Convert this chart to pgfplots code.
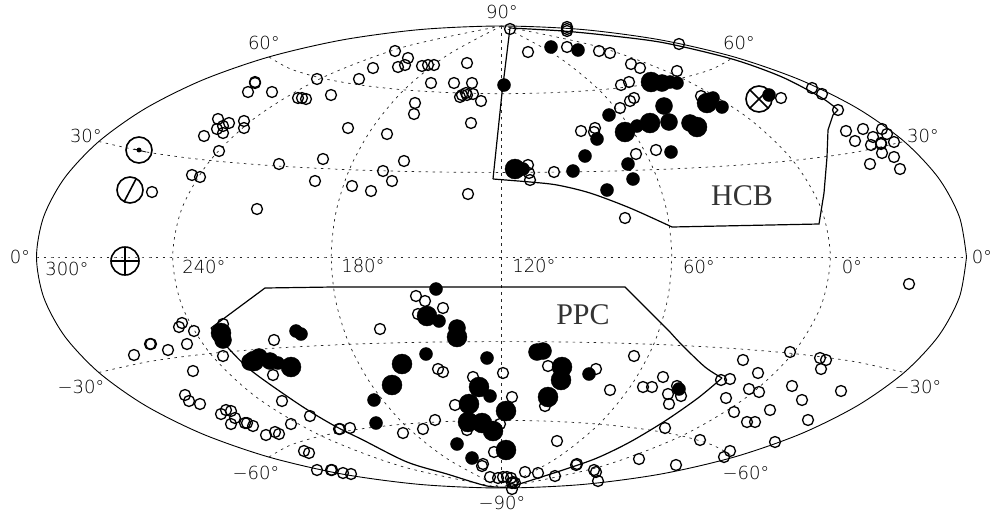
\documentclass[border=0pt]{standalone}
\usepackage{fontspec}
\usepackage{pgfplots}
\pgfplotsset{compat=1.18}
\usetikzlibrary{plotmarks}
\setmainfont{DejaVu Sans}
\newfontfamily\lblfont{DejaVu Sans ExtraLight}
\newfontfamily\serfont{Liberation Serif}

% all positions are image pixels of the reference, y downwards
\pgfplotstableread{
x y
317 79
331 95
255 82
255 83
248 92
272 92
298 98
302 98
306 99
218 119
229 123
244 121
244 128
223 126
217 129
223 133
204 136
219 151
279 164
323 159
315 181
192 175
200 177
152 192
257 209
510 29
567 27
567 29
567 31
528 52
567 47
599 51
610 53
631 64
640 68
629 82
621 85
634 98
630 101
620 108
595 128
594 132
581 131
636 154
656 150
528 165
529 173
530 180
554 172
625 218
395 51
408 58
405 65
398 67
373 68
359 79
422 66
428 65
434 65
467 63
431 83
454 83
472 83
460 97
462 95
466 93
467 95
473 94
481 101
415 103
414 114
348 128
387 134
471 123
404 161
383 171
392 181
352 186
371 191
468 194
679 44
677 71
701 96
781 98
812 88
822 94
838 110
846 131
863 129
855 141
882 129
887 134
873 137
894 142
871 145
881 144
881 143
882 153
894 157
870 164
900 169
223 324
182 323
179 327
194 331
274 340
187 344
150 344
151 344
168 350
134 355
223 356
193 371
273 375
185 395
189 401
200 404
282 401
221 414
226 410
231 411
235 418
231 424
245 423
247 423
253 426
291 424
310 416
266 435
275 432
279 434
304 451
309 453
317 470
331 470
339 429
416 296
425 301
443 308
418 314
380 329
438 369
443 372
473 377
503 373
455 405
512 397
435 420
423 429
403 433
350 428
340 429
467 430
500 424
557 441
494 452
483 464
482 466
525 472
538 473
555 476
490 477
498 478
503 477
507 477
511 478
513 482
512 483
515 483
512 489
576 465
577 464
594 470
596 472
598 481
548 366
596 369
545 406
610 390
634 356
643 387
652 387
663 377
668 394
669 404
665 428
639 459
332 470
343 473
351 474
909 284
790 352
820 358
826 360
821 369
743 360
758 373
721 380
730 379
792 386
749 389
759 392
841 391
726 398
802 400
770 410
734 412
747 422
755 422
808 420
775 442
730 451
724 457
700 440
676 465
677 386
681 396
}\opentab

\pgfplotstableread{
x y
551 47
578 50
504 85
523 169
573 171
585 156
597 139
609 115
628 164
633 179
607 190
670 82
677 83
769 95
671 152
722 107
713 98
637 126
296 331
301 334
278 363
436 289
439 321
426 354
374 400
376 423
487 358
490 396
457 444
472 458
589 374
679 389
}\smalltab

\pgfplotstableread{
x y
662 83
669 122
690 123
664 106
223 340
250 362
259 357
270 361
457 328
537 352
543 351
}\midtab

\pgfplotstableread{
x y
515 169
651 82
625 132
650 123
707 103
697 127
221 333
254 361
291 367
427 316
457 337
402 364
392 385
479 387
469 404
506 411
468 422
482 423
493 431
506 450
562 367
561 380
548 397
}\bigtab

\begin{document}
\begin{tikzpicture}
\begin{axis}[
    scale only axis,
    width=1005pt, height=512pt,
    xmin=0, xmax=1005, ymin=0, ymax=512,
    y dir=reverse,
    hide axis,
    clip=false,
    mygrid/.style={black!85, line width=0.7pt, dash pattern=on 2.5pt off 4.5pt, smooth, no marks},
]
% outline
\addplot[black, line width=0.9pt, smooth, no marks] coordinates {
(966.5,257) (959.4,216.9) (938.5,178) (904.2,141.5) (857.7,108.5) (800.4,80) (734,56.9) (660.5,39.9) (582.2,29.5) (501.5,26)
(420.8,29.5) (342.5,39.9) (269,56.9) (202.6,80) (145.3,108.5) (98.8,141.5) (64.5,178) (43.6,216.9) (36.5,257)
(43.6,297.1) (64.5,336) (98.8,372.5) (145.3,405.5) (202.6,434) (269,457.1) (342.5,474.1) (420.8,484.5) (501.5,488)
(582.2,484.5) (660.5,474.1) (734,457.1) (800.4,434) (857.7,405.5) (904.2,372.5) (938.5,336) (959.4,297.1) (966.5,257)};

% grid: equator and central meridian
\addplot[mygrid] coordinates {(36.5,257) (966.5,257)};
\addplot[mygrid] coordinates {(501.5,26) (501.5,488)};
% meridians
\addplot[mygrid] coordinates {(501.5,26) (555.9,55.3) (599,89.9) (631,128.4) (653.7,169.7) (667.2,212.9) (671.7,257) (667.2,301.1) (653.7,344.3) (631,385.6) (599,424.1) (555.9,458.7) (501.5,488)};
\addplot[mygrid] coordinates {(501.5,26) (447.1,55.3) (404,89.9) (372,128.4) (349.3,169.7) (335.8,212.9) (331.3,257) (335.8,301.1) (349.3,344.3) (372,385.6) (404,424.1) (447.1,458.7) (501.5,488)};
\addplot[mygrid] coordinates {(501.5,26) (599.6,47.1) (681.6,78.1) (746.3,116.6) (792.8,160.5) (820.9,207.9) (830.3,257) (820.9,306.1) (792.8,353.5) (746.3,397.4) (681.6,435.9) (599.6,466.9) (501.5,488)};
\addplot[mygrid] coordinates {(501.5,26) (403.4,47.1) (321.4,78.1) (256.7,116.6) (210.2,160.5) (182.1,207.9) (172.7,257) (182.1,306.1) (210.2,353.5) (256.7,397.4) (321.4,435.9) (403.4,466.9) (501.5,488)};
% parallels
\addplot[mygrid] coordinates {(98.8,141.5) (149.9,152.6) (210.2,160.5) (277.2,166) (349.3,169.7) (424.6,171.8) (501.5,172.4) (578.4,171.8) (653.7,169.7) (725.8,166) (792.8,160.5) (853.1,152.6) (904.2,141.5)};
\addplot[mygrid] coordinates {(269,57) (290.2,68.8) (321.4,78.1) (360.2,85) (404.4,89.9) (452.1,92.7) (501.5,93.7) (550.9,92.7) (598.6,89.9) (642.8,85) (681.6,78.1) (712.8,68.8) (734,57)};
\addplot[mygrid] coordinates {(98.8,372.5) (149.9,361.4) (210.2,353.5) (277.2,348) (349.3,344.3) (424.6,342.2) (501.5,341.6) (578.4,342.2) (653.7,344.3) (725.8,348) (792.8,353.5) (853.1,361.4) (904.2,372.5)};
\addplot[mygrid] coordinates {(269,457) (290.2,445.2) (321.4,435.9) (360.2,429) (404.4,424.1) (452.1,421.3) (501.5,420.3) (550.9,421.3) (598.6,424.1) (642.8,429) (681.6,435.9) (712.8,445.2) (734,457)};

% HCB region
\addplot[black, line width=1.2pt, no marks, smooth] coordinates {(510,28) (563,31) (613,36) (665,43) (732,59) (782,77) (822,98) (838,110)};
\addplot[black, line width=1.2pt, no marks] coordinates {(838,110) (833,115) (828,130) (827,157) (824,193) (819,224) (672,227)};
\addplot[black, line width=1.2pt, no marks, smooth] coordinates {(672,227) (630,208) (590,193) (557,185) (530,182) (493,179)};
\addplot[black, line width=1.2pt, no marks] coordinates {(493,179) (502,93) (510,28)};
% PPC region
\addplot[black, line width=1.2pt, no marks] coordinates {(211,328) (265,288) (333,287) (625,287) (670,332)};
\addplot[black, line width=1.2pt, no marks, smooth] coordinates {(670,332) (682,345) (705,367) (722,378)};
\addplot[black, line width=1.2pt, no marks, smooth] coordinates {(722,378) (698,398) (665,421) (630,442) (597,458) (563,470) (510,487)};
\addplot[black, line width=1.2pt, no marks, smooth] coordinates {(510,487) (487,486) (447,474) (407,462) (363,440) (333,425) (300,405) (253,372) (230,350) (211,328)};

% sources
\addplot[only marks, mark=o, mark size=5.5pt, mark options={line width=1.3pt, black}] table {\opentab};
\addplot[only marks, mark=*, mark size=6.5pt, mark options={black}] table {\smalltab};
\addplot[only marks, mark=*, mark size=8.5pt, mark options={black}] table {\midtab};
\addplot[only marks, mark=*, mark size=10pt, mark options={black}] table {\bigtab};

% special symbols
\addplot[only marks, mark=o, mark size=13pt, mark options={line width=1.6pt, black}] coordinates {(139,150) (130,190)};
\addplot[only marks, mark=oplus, mark size=14pt, mark options={line width=1.6pt, black}] coordinates {(125,261)};
\addplot[only marks, mark=otimes, mark size=13pt, mark options={line width=1.6pt, black}] coordinates {(759,99)};
\addplot[black, line width=1.6pt, no marks] coordinates {(124,202) (136,179)};
\addplot[black, line width=0.8pt, no marks] coordinates {(134,149) (146,152)};
\addplot[only marks, mark=*, mark size=2.2pt, mark options={black}] coordinates {(139,150)};

% labels
\tikzset{deg/.style={font=\lblfont\fontsize{18}{18}\selectfont, inner sep=0pt, text=black}}
\node[deg] at (axis cs:502,12) {90°};
\node[deg] at (axis cs:264,43) {60°};
\node[deg] at (axis cs:739,43) {60°};
\node[deg] at (axis cs:86,136) {30°};
\node[deg] at (axis cs:923,136) {30°};
\node[deg] at (axis cs:20,257) {0°};
\node[deg] at (axis cs:982,257) {0°};
\node[deg] at (axis cs:67,269) {300°};
\node[deg] at (axis cs:204,267) {240°};
\node[deg] at (axis cs:363,266) {180°};
\node[deg] at (axis cs:534,266) {120°};
\node[deg] at (axis cs:699,267) {60°};
\node[deg] at (axis cs:852,267) {0°};
\node[deg] at (axis cs:81,387) {−30°};
\node[deg] at (axis cs:918,387) {−30°};
\node[deg] at (axis cs:256,473) {−60°};
\node[deg] at (axis cs:746,473) {−60°};
\node[deg] at (axis cs:502,503) {−90°};
\node[font=\serfont\fontsize{30}{30}\selectfont, inner sep=0pt, text=black!80] at (axis cs:742,196) {HCB};
\node[font=\serfont\fontsize{30}{30}\selectfont, inner sep=0pt, text=black!80] at (axis cs:583,315) {PPC};
\end{axis}
\useasboundingbox (0,0) rectangle (1005pt,512pt);
\end{tikzpicture}
\end{document}
